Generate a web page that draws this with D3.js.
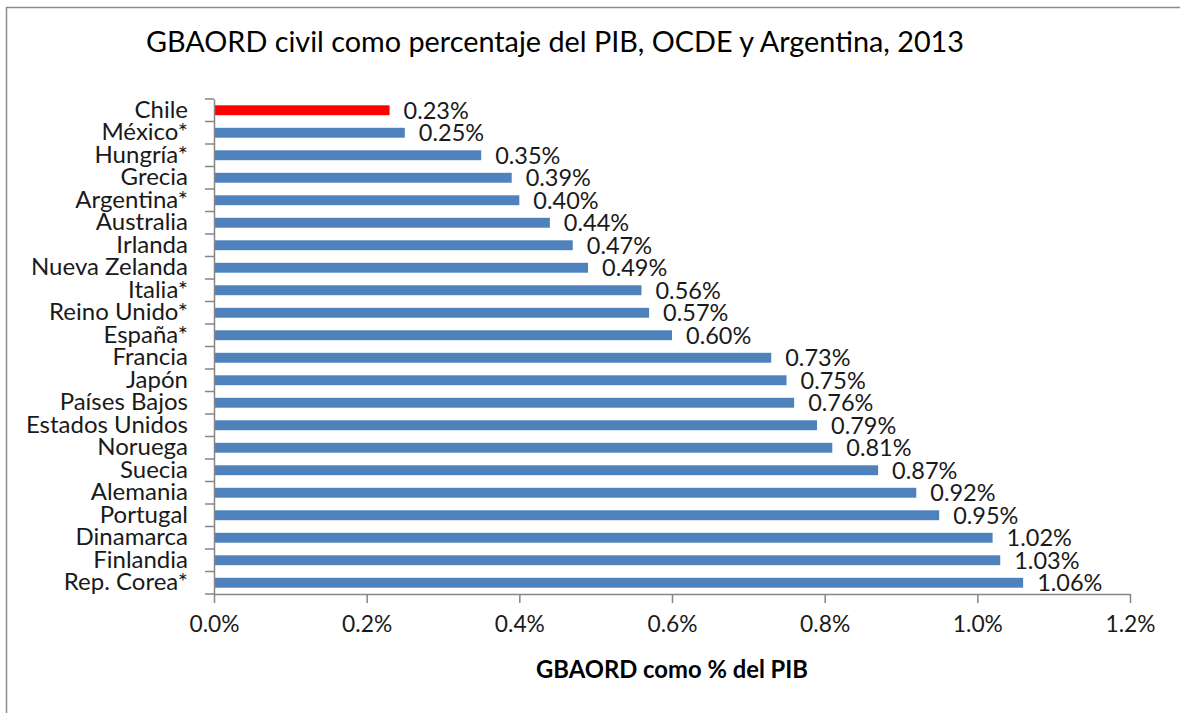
<!DOCTYPE html>
<html>
<head>
<meta charset="utf-8">
<script src="https://cdn.jsdelivr.net/npm/d3@7"></script>
<style>
	body { margin: 0; background: #fff; }
	svg { display: block; font-family: Lato, "Open Sans", sans-serif; }
</style>
</head>
<body>
<svg id="chart" width="1180" height="713"></svg>
<script>

const countries = ["Chile", "México*", "Hungría*", "Grecia", "Argentina*", "Australia", "Irlanda",
	"Nueva Zelanda", "Italia*", "Reino Unido*", "España*", "Francia", "Japón", "Países Bajos",
	"Estados Unidos", "Noruega", "Suecia", "Alemania", "Portugal", "Dinamarca", "Finlandia", "Rep. Corea*"];
const gbaord = [0.23, 0.25, 0.35, 0.39, 0.40, 0.44, 0.47, 0.49, 0.56, 0.57, 0.60, 0.73, 0.75,
	0.76, 0.79, 0.81, 0.87, 0.92, 0.95, 1.02, 1.03, 1.06];
const x_ticks = [0, 0.2, 0.4, 0.6, 0.8, 1.0, 1.2];
const highlight = "Chile";

const svg = d3.select("#chart");
const plot = {left: 214, right: 1130, top: 99, bottom: 594};
const axis_color = "#868686";
const text_color = "#1a1a1a";

const data = countries.map((c, i) => ({name: c, value: gbaord[i]}));

const x = d3.scaleLinear().domain([0, 1.2]).range([plot.left, plot.right]);
const y = d3.scaleBand().domain(countries).range([plot.top, plot.bottom])
	.paddingInner(0.56).paddingOuter(0.28);

// outer frame (right and bottom edges are cut off in the original)
svg.append("rect")
	.attr("x", 6.5).attr("y", 7.5)
	.attr("width", 1300).attr("height", 900)
	.attr("fill", "none").attr("stroke", "#8c8c8c").attr("stroke-width", 1.5);

svg.append("text")
	.attr("x", 555).attr("y", 52)
	.attr("text-anchor", "middle")
	.style("font-size", "28.8px")
	.attr("fill", "#000")
	.text("GBAORD civil como percentaje del PIB, OCDE y Argentina, 2013");

// bars
svg.append("g").selectAll("rect")
	.data(data)
	.enter().append("rect")
	.attr("x", x(0))
	.attr("y", d => y(d.name))
	.attr("width", d => x(d.value) - x(0))
	.attr("height", y.bandwidth())
	.attr("fill", d => d.name === highlight ? "#ff0000" : "#4f81bd");

// value labels
svg.append("g").selectAll("text")
	.data(data)
	.enter().append("text")
	.attr("x", d => x(d.value) + 14)
	.attr("y", d => y(d.name) + y.bandwidth() / 2)
	.attr("dy", "0.36em")
	.style("font-size", "23.5px")
	.attr("fill", text_color)
	.text(d => d.value.toFixed(2) + "%");

// x axis
const x_axis = d3.axisBottom(x)
	.tickValues(x_ticks)
	.tickFormat(d => d.toFixed(1) + "%")
	.tickSize(9)
	.tickSizeOuter(0)
	.tickPadding(13);

const xg = svg.append("g")
	.attr("transform", "translate(0," + plot.bottom + ")")
	.call(x_axis);
xg.select(".domain").attr("stroke", axis_color).attr("stroke-width", 1.5);
xg.selectAll(".tick line").attr("stroke", axis_color).attr("stroke-width", 1.5);
xg.selectAll(".tick text").style("font-size", "22.8px").attr("fill", text_color)
	.attr("font-family", "Lato, sans-serif");

// y axis: names at band centres, tick marks between categories
const y_axis = d3.axisLeft(y).tickSize(0).tickPadding(26);
const yg = svg.append("g")
	.attr("transform", "translate(" + plot.left + ",0)")
	.call(y_axis);
yg.select(".domain").attr("stroke", axis_color).attr("stroke-width", 1.5);
yg.selectAll(".tick text").style("font-size", "24px").attr("fill", text_color)
	.attr("font-family", "Lato, sans-serif");

const boundaries = d3.range(countries.length + 1).map(i => plot.top + i * y.step());
svg.append("g").selectAll("line")
	.data(boundaries)
	.enter().append("line")
	.attr("x1", plot.left - 9).attr("x2", plot.left)
	.attr("y1", d => d).attr("y2", d => d)
	.attr("stroke", axis_color).attr("stroke-width", 1.5);

svg.append("text")
	.attr("x", (plot.left + plot.right) / 2).attr("y", 678)
	.attr("text-anchor", "middle")
	.style("font-size", "23.8px").style("font-weight", "bold")
	.attr("fill", "#000")
	.text("GBAORD como % del PIB");

</script>
</body>
</html>
